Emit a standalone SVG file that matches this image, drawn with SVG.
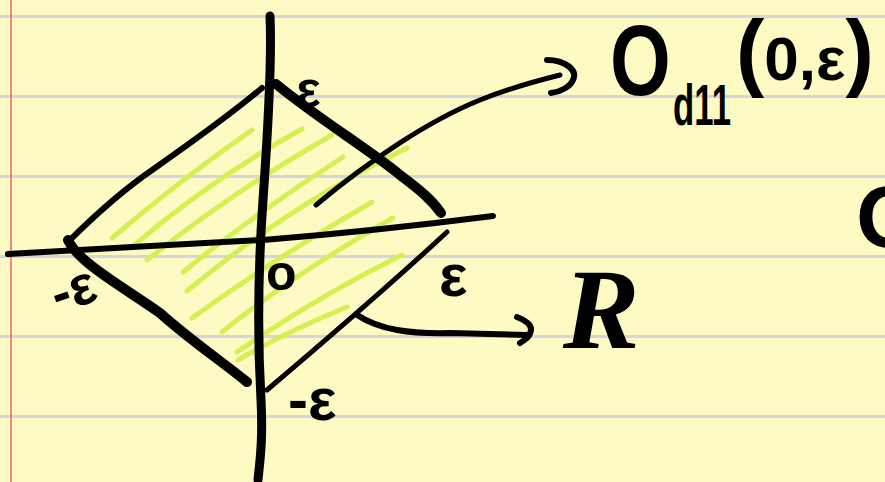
<svg xmlns="http://www.w3.org/2000/svg" width="885" height="482" viewBox="0 0 885 482">
<style>
.ink{fill:none;stroke:#000;stroke-linecap:round;stroke-linejoin:round}
.hatch{fill:none;stroke:#D4F052;stroke-width:5;stroke-linecap:round}
.rule{stroke:#D6D4DC;stroke-width:3}
.t{font-family:"Liberation Sans",Arial,sans-serif;font-weight:bold;fill:#000}
</style>
<rect width="885" height="482" fill="#FDFBC3"/>
<g id="paper">
<line class="rule" x1="0" y1="16.5" x2="885" y2="16.5"/>
<line class="rule" x1="0" y1="96.5" x2="885" y2="96.5"/>
<line class="rule" x1="0" y1="176.5" x2="885" y2="176.5"/>
<line class="rule" x1="0" y1="256.5" x2="885" y2="256.5"/>
<line class="rule" x1="0" y1="336.5" x2="885" y2="336.5"/>
<line class="rule" x1="0" y1="416.5" x2="885" y2="416.5"/>
<line x1="11" y1="0" x2="11" y2="482" stroke="#E8626A" stroke-width="1.5"/>
</g>
<g id="hatching">
<path class="hatch" d="M112,238 Q180,180 252,130"/>
<path class="hatch" d="M132,247 Q210,180 302,129"/>
<path class="hatch" d="M147,260 Q235,190 332,135"/>
<path class="hatch" d="M183,272 Q260,210 343,157"/>
<path class="hatch" d="M187,291 Q290,205 407,148"/>
<path class="hatch" d="M192,318 Q280,255 372,202"/>
<path class="hatch" d="M222,332 Q300,270 393,218"/>
<path class="hatch" d="M237,352 Q320,295 402,255"/>
<path class="hatch" d="M238,360 Q290,330 347,307"/>
</g>
<g id="axes">
<path class="ink" stroke-width="9" d="M270,16 C272,60 268,130 263,200 C258,270 257,330 261,400 C263,440 260,460 258,480"/>
<path class="ink" stroke-width="6" d="M8,254 C80,250 180,244 263,240 C350,233 430,224 493,216"/>
</g>
<g id="region">
<path class="ink" stroke-width="6" d="M68,242 C100,210 130,185 155,168 C195,140 230,115 262,88"/>
<path class="ink" stroke-width="10" d="M68,240 C78,262 120,285 160,313 C190,340 220,360 247,382"/>
<path class="ink" stroke-width="10" d="M276,84 C320,120 370,150 400,175 C420,190 432,200 441,213"/>
<path class="ink" stroke-width="5" d="M447,232 C390,285 320,345 267,390"/>
</g>
<g id="connectors">
<path class="ink" stroke-width="5" d="M316,205 C370,160 430,120 480,100 C510,88 540,80 560,75"/>
<path class="ink" stroke-width="6" d="M547,60 C565,60 578,70 573,80 C570,87 560,92 551,93"/>
<path class="ink" stroke-width="6" d="M357,315 C380,330 410,334 450,333 L527,335"/>
<path class="ink" stroke-width="6" d="M517,317 C525,320 532,325 531,330 C530,337 525,340 520,343"/>
</g>
<g id="labels">
<text class="t" x="296" y="107" font-size="52">ε</text>
<text class="t" x="439" y="296" font-size="60">ε</text>
<text class="t" x="288" y="420" font-size="60">-ε</text>
<text class="t" x="52" y="306" font-size="55" transform="rotate(-18 78 292)">-ε</text>
<text class="t" x="266" y="290" font-size="50">o</text>
<text x="563" y="348" font-family="Liberation Serif,serif" font-style="italic" font-weight="bold" font-size="115">R</text>
<text class="t" font-size="100" transform="translate(610 95) scale(0.78 1)">O</text>
<text class="t" font-size="58" transform="translate(673 125) scale(0.6 1)">d11</text>
<text class="t" x="736" y="80" font-size="85"><tspan>(</tspan><tspan font-size="62">0,ε</tspan><tspan>)</tspan></text>
<text class="t" x="856" y="247" font-size="88">O</text>
</g>
</svg>
